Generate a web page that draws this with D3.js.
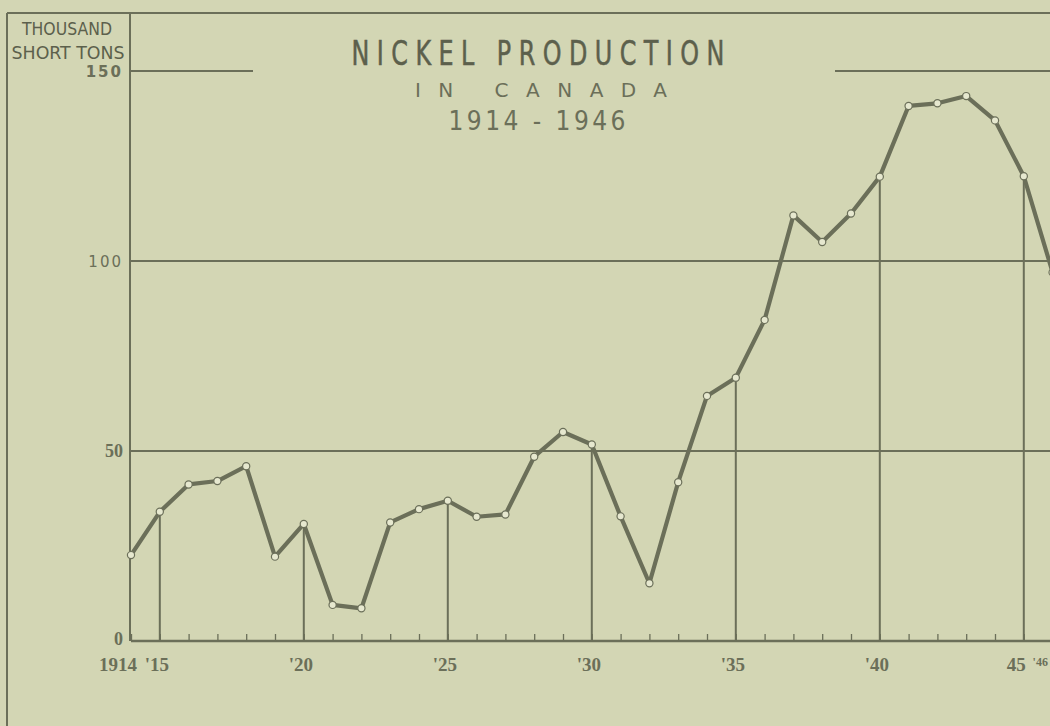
<!DOCTYPE html>
<html>
<head>
<meta charset="utf-8">
<script src="https://cdn.jsdelivr.net/npm/d3@7"></script>
<style>
  html, body { margin: 0; padding: 0; background: #d3d6b4; }
  svg { display: block; }
</style>
</head>
<body>
<svg id="chart" width="1050" height="726"></svg>
<script>
// ---- data ----
const years = [1914,1915,1916,1917,1918,1919,1920,1921,1922,1923,1924,1925,1926,1927,1928,1929,1930,
               1931,1932,1933,1934,1935,1936,1937,1938,1939,1940,1941,1942,1943,1944,1945,1946];
const production = [22.6,34.0,41.2,42.1,46.0,22.2,30.8,9.5,8.6,31.2,34.7,36.9,32.7,33.3,48.5,55.0,51.7,
                    32.8,15.2,41.8,64.5,69.3,84.5,112.0,105.0,112.5,122.2,140.8,141.5,143.4,137.0,122.3,97.0];
const dropYears = [1915,1920,1925,1930,1935,1940,1945];
const yTicks = [0,50,100,150];
const yTickLabels = ["0","50","100","150"];
const xLabelYears = [1914,1915,1920,1925,1930,1935,1940,1945,1946];
const xLabels = ["1914","'15","'20","'25","'30","'35","'40","45","'46"];
const titleLines = ["NICKEL  PRODUCTION","IN  CANADA","1914 - 1946"];
const unitLines = ["THOUSAND","SHORT  TONS"];

// ---- setup ----
const bg = "#d3d6b4", ink = "#6b6f59", inkDark = "#5c604c";
const condensed = "'DejaVu Sans Condensed','Liberation Sans Narrow',sans-serif";
const svg = d3.select("#chart");
const x = d3.scaleLinear().domain([1914,1946]).range([131, 1052.6]);
const y = d3.scaleLinear().domain([0,150]).range([641, 71]);

svg.append("rect").attr("width",1050).attr("height",726).attr("fill",bg);

// frame: outer left border, top border, label-box edge / left axis
svg.append("line").attr("x1",7).attr("x2",7).attr("y1",13).attr("y2",726)
  .attr("stroke",ink).attr("stroke-width",2);
svg.append("line").attr("x1",7).attr("x2",1050).attr("y1",13).attr("y2",13)
  .attr("stroke",ink).attr("stroke-width",2);
svg.append("line").attr("x1",x(1914)-1).attr("x2",x(1914)-1).attr("y1",13).attr("y2",y(0))
  .attr("stroke",ink).attr("stroke-width",2);

// horizontal grid lines (150 line broken by the title)
yTicks.forEach(v => {
  if (v === 150) {
    svg.append("line").attr("x1",x(1914)).attr("x2",253).attr("y1",y(v)).attr("y2",y(v))
      .attr("stroke",ink).attr("stroke-width",2);
    svg.append("line").attr("x1",835).attr("x2",1050).attr("y1",y(v)).attr("y2",y(v))
      .attr("stroke",ink).attr("stroke-width",2);
  } else {
    svg.append("line").attr("x1",x(1914)).attr("x2",1050).attr("y1",y(v)).attr("y2",y(v))
      .attr("stroke",ink).attr("stroke-width",v===0?2.5:2);
  }
});

// minor year ticks along baseline
const xAxis = d3.axisBottom(x).tickValues(years).tickSize(-7).tickFormat("");
const gx = svg.append("g").attr("transform",`translate(0,${y(0)})`).call(xAxis);
gx.select(".domain").remove();
gx.selectAll(".tick line").attr("stroke",ink).attr("stroke-width",1.3);

// drop lines from points to baseline
const valueOf = yr => production[years.indexOf(yr)];
svg.selectAll("line.drop").data(dropYears).enter().append("line")
  .attr("class","drop")
  .attr("x1",d=>x(d)).attr("x2",d=>x(d))
  .attr("y1",d=>y(valueOf(d))).attr("y2",y(0))
  .attr("stroke",ink).attr("stroke-width",2);

// data line
const pts = years.map((yr,i)=>({yr, v: production[i]}));
svg.append("path").datum(pts)
  .attr("d", d3.line().x(d=>x(d.yr)).y(d=>y(d.v)))
  .attr("fill","none").attr("stroke",ink).attr("stroke-width",4.2)
  .attr("stroke-linejoin","round");
svg.selectAll("circle.pt").data(pts).enter().append("circle")
  .attr("class","pt").attr("cx",d=>x(d.yr)).attr("cy",d=>y(d.v)).attr("r",3.6)
  .attr("fill","#e6e8cf").attr("stroke",ink).attr("stroke-width",1.2);

// y tick labels
svg.selectAll("text.ylab").data(yTicks).enter().append("text")
  .attr("class","ylab")
  .attr("x", 123)
  .attr("y", d => d===0 ? y(d)+4 : y(d)+6)
  .attr("text-anchor","end")
  .attr("fill", ink)
  .attr("font-family", d => d>=100 ? "'DejaVu Sans', sans-serif" : "'Liberation Serif', serif")
  .attr("font-weight", d => d===100 ? "normal" : "bold")
  .attr("font-size", d => d>=100 ? 15 : 18)
  .attr("letter-spacing", d => d>=100 ? 2 : 0)
  .text((d,i)=>yTickLabels[i]);

// x labels
svg.selectAll("text.xlab").data(xLabelYears).enter().append("text")
  .attr("class","xlab")
  .attr("fill", ink)
  .attr("font-family","'Liberation Serif', serif")
  .attr("font-weight","bold")
  .attr("font-size",(d,i)=> xLabels[i]==="'46" ? 12 : 19)
  .attr("x",(d,i)=>{
    const l = xLabels[i];
    if (l==="1914") return x(d)-13;
    if (l==="45") return x(d)+2;
    if (l==="'46") return x(d)-20;
    return x(d)-3;
  })
  .attr("y",(d,i)=> xLabels[i]==="'46" ? 666 : 671)
  .attr("text-anchor",(d,i)=> xLabels[i]==="45" ? "end" : (xLabels[i]==="'46" ? "start" : "middle"))
  .text((d,i)=>xLabels[i]);

// unit label
svg.append("text").attr("x",67).attr("y",35).attr("text-anchor","middle")
  .attr("fill",inkDark).attr("font-family",condensed)
  .attr("font-size",17)
  .attr("textLength",90).attr("lengthAdjust","spacingAndGlyphs").text(unitLines[0]);
svg.append("text").attr("x",68).attr("y",59).attr("text-anchor","middle")
  .attr("fill",inkDark).attr("font-family",condensed)
  .attr("font-size",17)
  .attr("textLength",113).attr("lengthAdjust","spacingAndGlyphs").text(unitLines[1]);

// title
svg.append("text").attr("x",538).attr("y",65).attr("text-anchor","middle")
  .attr("fill",inkDark).attr("font-family",condensed)
  .attr("font-size",34).attr("stroke",inkDark).attr("stroke-width",0.5)
  .attr("transform","translate(538,65) scale(0.78,1) translate(-538,-65)")
  .attr("textLength",478).attr("lengthAdjust","spacing").text(titleLines[0]);
svg.append("text").attr("x",541).attr("y",97).attr("text-anchor","middle")
  .attr("fill",ink).attr("font-family","'DejaVu Sans', sans-serif")
  .attr("font-size",20)
  .attr("textLength",252).attr("lengthAdjust","spacing").text(titleLines[1]);
svg.append("text").attr("x",537).attr("y",130).attr("text-anchor","middle")
  .attr("fill",ink).attr("font-family",condensed)
  .attr("font-size",26)
  .attr("textLength",177).attr("lengthAdjust","spacing").text(titleLines[2]);
</script>
</body>
</html>
